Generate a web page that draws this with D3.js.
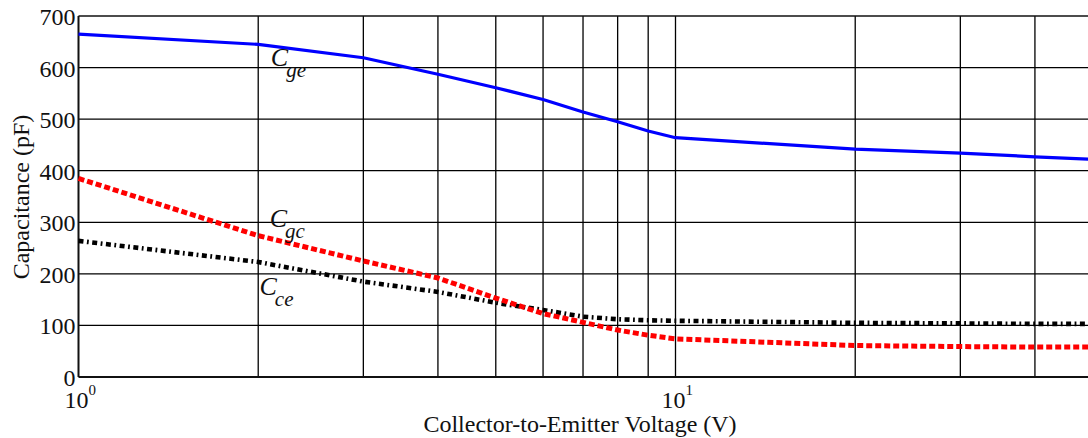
<!DOCTYPE html>
<html>
<head>
<meta charset="utf-8">
<script src="https://cdn.jsdelivr.net/npm/d3@7/dist/d3.min.js"></script>
<style>
  html, body { margin: 0; padding: 0; background: #fff; overflow: hidden; }
  svg { display: block; }
</style>
</head>
<body>
<svg id="chart" width="1088" height="438"></svg>
<script>
// Collector-to-emitter voltage samples (V)
const voltage = [1, 2, 3, 4, 5, 6, 7, 8, 9, 10, 20, 30, 40, 50];
// Gate-emitter capacitance (pF)
const cge = [665, 645, 619, 587, 561, 538, 514, 495, 477, 464, 442, 434, 427, 422];
// Gate-collector capacitance (pF)
const cgc = [385, 274, 225, 192, 153, 123, 106, 91, 81, 74, 61, 59, 58, 58];
// Collector-emitter capacitance (pF)
const cce = [264, 223, 185, 165, 144, 130, 117, 112, 110, 109, 105, 104, 103, 103];

const yTicks = [0, 100, 200, 300, 400, 500, 600, 700];
const xGrid = [2, 3, 4, 5, 6, 7, 8, 9, 10, 20, 30, 40];
const xDecades = [{ base: "10", exp: "0", v: 1 }, { base: "10", exp: "1", v: 10 }];

// Curve labels, anchored in data units (voltage, pF at baseline)
const labels = [
  { main: "C", sub: "ge", v: 2.10, c: 603 },
  { main: "C", sub: "gc", v: 2.09, c: 291 },
  { main: "C", sub: "ce", v: 2.01, c: 159 }
];

const svg = d3.select("#chart");
const plotLeft = 78.5, plotTop = 16, plotBottom = 377;
const decade = 597;

const x = d3.scaleLog().domain([1, 50]).range([plotLeft, plotLeft + decade * Math.log10(50)]);
const y = d3.scaleLinear().domain([0, 700]).range([plotBottom, plotTop]);

const serif = "'Liberation Serif', 'Times New Roman', serif";

// grid
const grid = svg.append("g").attr("stroke", "#000").attr("stroke-width", 1.3);
grid.selectAll("line.h").data(yTicks.filter(d => d > 0 && d < 700)).join("line")
  .attr("x1", plotLeft).attr("x2", x(50))
  .attr("y1", d => y(d)).attr("y2", d => y(d));
grid.selectAll("line.v").data(xGrid).join("line")
  .attr("x1", d => x(d)).attr("x2", d => x(d))
  .attr("y1", plotTop).attr("y2", plotBottom);

// frame: top, left, bottom
const frame = svg.append("g").attr("stroke", "#111").attr("fill", "none");
frame.append("line").attr("x1", plotLeft).attr("x2", x(50)).attr("y1", plotTop).attr("y2", plotTop).attr("stroke-width", 1.6);
frame.append("line").attr("x1", plotLeft).attr("x2", plotLeft).attr("y1", plotTop).attr("y2", plotBottom).attr("stroke-width", 2);
frame.append("line").attr("x1", plotLeft).attr("x2", x(50)).attr("y1", plotBottom).attr("y2", plotBottom).attr("stroke-width", 2);

// y tick labels
svg.append("g").selectAll("text").data(yTicks).join("text")
  .attr("x", plotLeft - 3).attr("y", d => y(d) + 9)
  .attr("text-anchor", "end")
  .attr("font-family", serif).attr("font-size", 24).attr("fill", "#111")
  .text(d => d);

// x decade labels
const xl = svg.append("g").selectAll("text").data(xDecades).join("text")
  .attr("x", d => x(d.v) - 14).attr("y", 408)
  .attr("font-family", serif).attr("font-size", 24).attr("fill", "#111");
xl.append("tspan").text(d => d.base);
xl.append("tspan").attr("font-size", 15).attr("dy", -13).text(d => d.exp);

// axis titles
svg.append("text")
  .attr("x", 580).attr("y", 432)
  .attr("text-anchor", "middle")
  .attr("font-family", serif).attr("font-size", 24).attr("fill", "#111")
  .text("Collector-to-Emitter Voltage (V)");
svg.append("text")
  .attr("transform", "translate(29,197) rotate(-90)")
  .attr("text-anchor", "middle")
  .attr("font-family", serif).attr("font-size", 24).attr("fill", "#111")
  .text("Capacitance (pF)");

// curves
const line = d3.line().x(d => x(d[0])).y(d => y(d[1]));
const series = [
  { vals: cge, color: "#0000ff", width: 3.2, dash: null },
  { vals: cce, color: "#000000", width: 4.6, dash: "5,3.5,1.8,3.5" },
  { vals: cgc, color: "#ff0000", width: 5, dash: "6,3" }
];
svg.append("g").selectAll("path").data(series).join("path")
  .attr("d", s => line(voltage.map((v, i) => [v, s.vals[i]])))
  .attr("fill", "none")
  .attr("stroke", s => s.color)
  .attr("stroke-width", s => s.width)
  .attr("stroke-dasharray", s => s.dash)
  .attr("stroke-linejoin", "round");

// curve labels
const lt = svg.append("g").selectAll("text").data(labels).join("text")
  .attr("x", d => x(d.v)).attr("y", d => y(d.c))
  .attr("font-family", serif).attr("font-style", "italic").attr("fill", "#111");
lt.append("tspan").attr("font-size", 26).text(d => d.main);
lt.append("tspan").attr("font-size", 21).attr("dy", 11).attr("dx", -2).text(d => d.sub);
</script>
</body>
</html>
